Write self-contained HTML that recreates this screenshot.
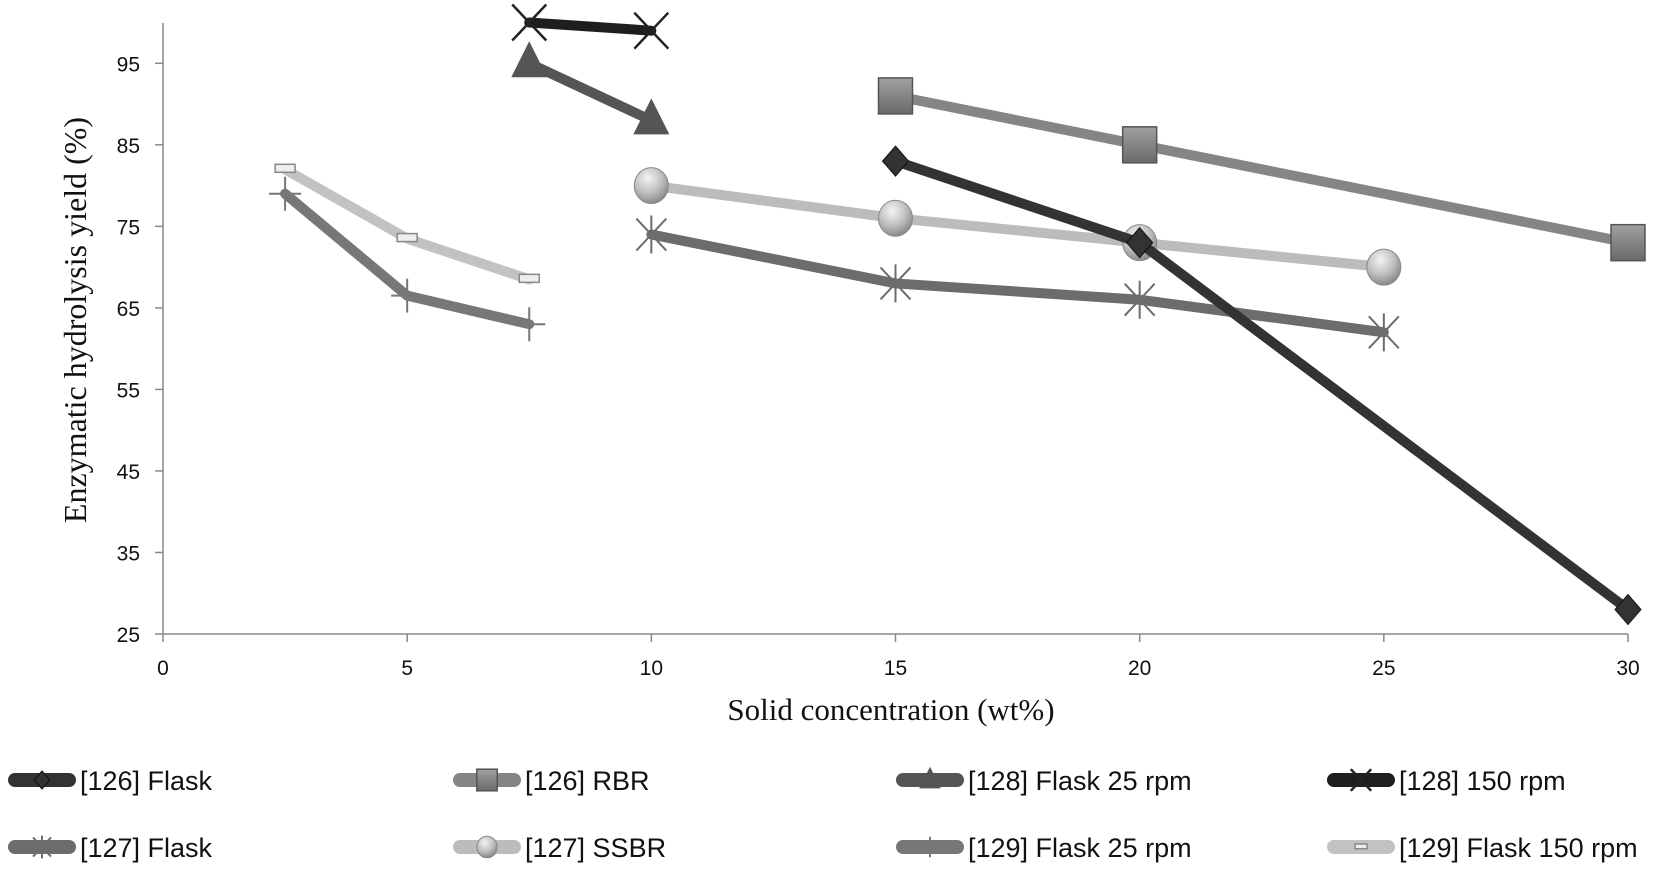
<!DOCTYPE html>
<html><head><meta charset="utf-8"><style>
body{margin:0;background:#fff;width:1654px;height:867px;overflow:hidden}
svg text{font-family:"Liberation Sans",sans-serif}
</style></head><body>
<svg id="chart" width="1654" height="867" xmlns="http://www.w3.org/2000/svg">
<defs>
<radialGradient id="ball" cx="40%" cy="30%" r="70%"><stop offset="0" stop-color="#f4f4f4"/><stop offset="0.6" stop-color="#bdbdbd"/><stop offset="1" stop-color="#8a8a8a"/></radialGradient>
<linearGradient id="sq" x1="0" y1="0" x2="0" y2="1"><stop offset="0" stop-color="#a0a0a0"/><stop offset="1" stop-color="#6a6a6a"/></linearGradient>
</defs>
<g id="axes"></g><g id="series"></g><g id="legend"></g>
</svg>
<script>
const xTicks=[0,5,10,15,20,25,30];
const yTicks=[25,35,45,55,65,75,85,95];
const seriesNames=["[126] Flask","[126] RBR","[128] Flask 25 rpm","[128] 150 rpm","[127] Flask","[127] SSBR","[129] Flask 25 rpm","[129] Flask 150 rpm"];
const x126=[15,20,30];
const y126Flask=[83,73,28];
const y126RBR=[91,85,73];
const x128=[7.5,10];
const y128F25=[95,88];
const y128F150=[100,99];
const x127=[10,15,20,25];
const y127Flask=[74,68,66,62];
const y127SSBR=[80,76,73,70];
const x129=[2.5,5,7.5];
const y129F25=[79,66.5,63];
const y129F150=[82,73.5,68.5];

const NS="http://www.w3.org/2000/svg";
const X0=163,XS=(1628-163)/30,Y0=634,YS=(634-63.3)/70;
const sx=v=>X0+v*XS, sy=v=>Y0-(v-25)*YS;
function mk(tag,attrs,parent){const e=document.createElementNS(NS,tag);for(const k in attrs)e.setAttribute(k,attrs[k]);parent.appendChild(e);return e;}
const axes=document.getElementById('axes'),ser=document.getElementById('series'),leg=document.getElementById('legend');

let yl=mk('line',{x1:X0,y1:23,x2:X0,y2:Y0,stroke:'#888','stroke-width':1.5},axes);


let xl=mk('line',{x1:X0,y1:Y0,x2:1628,y2:Y0,stroke:'#888','stroke-width':1.5},axes);


yTicks.forEach(v=>{
  mk('line',{x1:X0-8,y1:sy(v),x2:X0,y2:sy(v),stroke:'#888','stroke-width':1.5},axes);
  const t=mk('text',{x:140,y:sy(v)+8,'text-anchor':'end','font-size':21,fill:'#111'},axes);t.textContent=v;
  
  
});
xTicks.forEach(v=>{
  mk('line',{x1:sx(v),y1:Y0,x2:sx(v),y2:Y0+8,stroke:'#888','stroke-width':1.5},axes);
  const t=mk('text',{x:sx(v),y:675,'text-anchor':'middle','font-size':21,fill:'#111'},axes);t.textContent=v;
  
  
});
let yt=mk('text',{transform:'translate(86,320) rotate(-90)','text-anchor':'middle','font-size':32,fill:'#111',style:'font-family:"Liberation Serif",serif'},axes);
yt.textContent='Enzymatic hydrolysis yield (%)';


let xt=mk('text',{x:891,y:720,'text-anchor':'middle','font-size':31,fill:'#111',style:'font-family:"Liberation Serif",serif'},axes);
xt.textContent='Solid concentration (wt%)';



function marker(type,cx,cy,col,g,s){
  s=s||1;
  if(type==='diamond'){mk('polygon',{points:`${cx},${cy-15*s} ${cx+13*s},${cy} ${cx},${cy+15*s} ${cx-13*s},${cy}`,fill:col,stroke:'#111','stroke-width':1},g);}
  else if(type==='square'){mk('rect',{x:cx-17*s,y:cy-18*s,width:34*s,height:36*s,fill:'url(#sq)',stroke:'#555','stroke-width':1.5},g);}
  else if(type==='tri'){mk('polygon',{points:`${cx},${cy-22*s} ${cx+18*s},${cy+14*s} ${cx-18*s},${cy+14*s}`,fill:col},g);}
  else if(type==='x'){mk('path',{d:`M${cx-17*s},${cy-18*s}L${cx+17*s},${cy+18*s}M${cx+17*s},${cy-18*s}L${cx-17*s},${cy+18*s}`,stroke:'#222','stroke-width':2.5},g);}
  else if(type==='star'){mk('path',{d:`M${cx-15*s},${cy-16*s}L${cx+15*s},${cy+16*s}M${cx+15*s},${cy-16*s}L${cx-15*s},${cy+16*s}M${cx},${cy-19*s}L${cx},${cy+19*s}`,stroke:col,'stroke-width':2},g);}
  else if(type==='ball'){mk('ellipse',{cx:cx,cy:cy,rx:17*s,ry:18*s,fill:'url(#ball)',stroke:'#888','stroke-width':1},g);}
  else if(type==='plus'){mk('path',{d:`M${cx-16*s},${cy}L${cx+16*s},${cy}M${cx},${cy-17*s}L${cx},${cy+17*s}`,stroke:col,'stroke-width':2},g);}
  else if(type==='dash'){mk('rect',{x:cx-10*s,y:cy-5*s,width:20*s,height:8*s,fill:'#eee',stroke:'#888','stroke-width':1.5},g);}
}
const defs=[
 {xs:x126,ys:y126Flask,col:'#333',m:'diamond',name:'series-126-flask'},
 {xs:x126,ys:y126RBR,col:'#858585',m:'square',name:'series-126-rbr'},
 {xs:x128,ys:y128F25,col:'#555',m:'tri',name:'series-128-flask-25rpm'},
 {xs:x128,ys:y128F150,col:'#1e1e1e',m:'x',name:'series-128-150rpm'},
 {xs:x127,ys:y127Flask,col:'#6c6c6c',m:'star',name:'series-127-flask'},
 {xs:x127,ys:y127SSBR,col:'#bcbcbc',m:'ball',name:'series-127-ssbr'},
 {xs:x129,ys:y129F25,col:'#777',m:'plus',name:'series-129-flask-25rpm'},
 {xs:x129,ys:y129F150,col:'#c2c2c2',m:'dash',name:'series-129-flask-150rpm'}
];
const order=[5,7,4,6,1,2,3,0];
order.forEach(i=>{
  const d=defs[i];
  const g=mk('g',{},ser);
  
  
  const pts=d.xs.map((x,j)=>sx(x)+','+sy(d.ys[j])).join(' ');
  const pl=mk('polyline',{points:pts,fill:'none',stroke:d.col,'stroke-width':10,'stroke-linejoin':'round','stroke-linecap':'round'},g);
  
  
  d.xs.forEach((x,j)=>marker(d.m,sx(x),sy(d.ys[j]),d.col,g));
});
const legX=[8,453,896,1327],legY=[780,847];
defs.forEach((d,i)=>{
  const col=i%4,row=Math.floor(i/4);
  const g=mk('g',{},leg);
  
  
  const lx=legX[col],ly=legY[row];
  mk('line',{x1:lx+7,y1:ly,x2:lx+61,y2:ly,stroke:d.col,'stroke-width':14,'stroke-linecap':'round'},g);
  marker(d.m,lx+34,ly,d.col,g,0.6);
  const t=mk('text',{x:lx+72,y:ly+10,'font-size':27,fill:'#111'},g);t.textContent=seriesNames[i];
});
</script>
</body></html>
